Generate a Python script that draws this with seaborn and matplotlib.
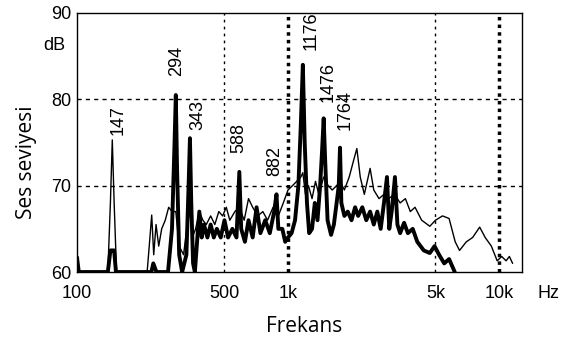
import numpy as np
import pandas as pd
import seaborn as sns
import matplotlib.pyplot as plt

# Spektrum verileri (Hz, dB) - ince cizgi
ince_hz = [100, 140, 144, 147, 150, 154, 215, 220, 226, 231, 237, 244, 252, 262, 272, 282, 294,
           305, 320, 335, 343, 352, 365, 380, 395, 410, 430, 450, 470, 490, 510, 530, 560, 588,
           620, 650, 680, 720, 760, 800, 850, 900, 950, 1000, 1050, 1100, 1150, 1176, 1210, 1250,
           1300, 1350, 1400, 1476, 1550, 1620, 1700, 1764, 1850, 1950, 2050, 2120, 2200, 2300,
           2450, 2550, 2700, 2850, 3000, 3200, 3400, 3600, 3800, 4000, 4300, 4700, 5000, 5400,
           5800, 6200, 6500, 7000, 7500, 8100, 8600, 9200, 9800, 10300, 10800, 11200, 11600]
ince_db = [60, 60, 68, 75.3, 68, 60, 60, 63, 66.6, 62, 65.5, 63, 65, 66, 67.5, 67, 67,
           63, 62, 66, 67, 64, 65, 67, 66, 65.5, 66.5, 65.5, 67, 66.5, 67.5, 66, 67, 67.5,
           66, 68.5, 67.5, 66.5, 67, 66, 67.5, 66.5, 68, 69.5, 70, 70.5, 71, 71.5, 69, 70,
           68.5, 70.5, 69, 71, 70, 69.5, 70, 70.5, 69.5, 71, 73, 74.3, 71, 69,
           72, 69.5, 68.5, 69, 68.5, 69, 68, 68.5, 67, 67.5, 66, 65.3, 66, 66.5,
           66.2, 63.5, 62.5, 63.5, 64, 65.2, 64, 63, 61.3, 61.8, 61.3, 61.8, 61]

# kalin cizgi
kalin_hz = [100, 102, 140, 144, 147, 150, 153, 225, 230, 238, 270, 282, 290, 294, 298, 305, 315,
            330, 338, 343, 348, 355, 362, 372, 380, 390, 400, 415, 430, 445, 460, 480, 500, 520,
            545, 570, 588, 600, 625, 650, 680, 710, 740, 780, 820, 860, 882, 900, 940, 970, 1000,
            1040, 1080, 1120, 1150, 1176, 1200, 1230, 1260, 1300, 1340, 1380, 1420, 1450, 1476,
            1500, 1540, 1600, 1650, 1700, 1740, 1764, 1790, 1850, 1920, 2000, 2080, 2150, 2250,
            2350, 2450, 2550, 2650, 2750, 2850, 2945, 3020, 3100, 3213, 3300, 3400, 3550, 3700,
            3900, 4100, 4400, 4700, 4950, 5200, 5500, 5800, 6170]
kalin_db = [61.7, 60, 60, 62.5, 62.5, 62.5, 60, 60, 61, 60, 60, 65, 75, 80.5, 72, 62, 60,
            62, 70, 75.5, 68, 61, 60, 64, 67, 64, 65.5, 64, 65.5, 64, 65, 64, 66, 64,
            65, 64, 71.6, 65, 63.5, 66, 64, 67.5, 64.5, 66, 64.5, 67, 69, 65, 65, 63.5, 64,
            64.5, 66, 70, 77, 84, 75, 68, 64.5, 65, 68, 66, 70, 74, 77.8,
            73, 66, 64.3, 65.5, 68, 70, 74.4, 68, 66.5, 67, 66, 67.5, 66.5, 67.5,
            66, 67, 65.5, 67, 65, 68, 71, 65, 67, 71, 65.5, 64.5, 65.7, 64.5,
            65, 63.5, 62.5, 62.2, 63, 62, 61, 61.5, 60]

# tepe etiketleri
tepe_etiket = ['147', '294', '343', '588', '882', '1176', '1476', '1764']
tepe_hz = [156, 298, 374, 585, 866, 1286, 1545, 1862]
tepe_db = [75.9, 82.7, 76.5, 73.8, 71.1, 85.7, 79.7, 76.5]

x_tikler = [100, 500, 1000, 5000, 10000]
x_etiket = ['100', '500', '1k', '5k', '10k']
y_tikler = [60, 70, 80, 90]

sns.set_style('white')
plt.rcParams['font.family'] = ['Liberation Sans', 'DejaVu Sans']
plt.rcParams['text.color'] = 'black'
plt.rcParams['axes.labelcolor'] = 'black'

fig = plt.figure(figsize=(5.64, 3.51), dpi=100)
ax = fig.add_axes([0.1365, 0.225, 0.789, 0.738])

# izgara cizgileri
for y in [70, 80]:
    ax.axhline(y, color='black', lw=1, ls=(0, (3, 3)), zorder=1)
ax.axvline(500, color='black', lw=1, ls=(0, (2, 3)), zorder=1)
ax.axvline(5000, color='black', lw=1, ls=(0, (2, 3)), zorder=1)
ax.axvline(1000, color='black', lw=2.5, ls=(0, (1, 1.2)), zorder=1)
ax.axvline(10000, color='black', lw=2.5, ls=(0, (1, 1.2)), zorder=1)

sns.lineplot(x=ince_hz, y=ince_db, ax=ax, color='black', lw=1, estimator=None, zorder=3)
sns.lineplot(x=kalin_hz, y=kalin_db, ax=ax, color='black', lw=2.8, estimator=None, zorder=4)

for lab, fx, fy in zip(tepe_etiket, tepe_hz, tepe_db):
    ax.text(fx, fy, lab, rotation=90, ha='center', va='bottom', fontsize=13, zorder=5)

ax.set_xscale('log')
ax.set_xlim(100, 12850)
ax.set_ylim(60, 90)
ax.set_xticks(x_tikler)
ax.set_xticklabels(x_etiket, fontsize=13)
ax.minorticks_off()
ax.set_yticks(y_tikler)
ax.set_yticklabels([str(v) for v in y_tikler], fontsize=13)
ax.tick_params(axis='x', length=0, pad=9, labelcolor='black')
ax.tick_params(axis='y', length=0, pad=4, labelcolor='black')

for s in ax.spines.values():
    s.set_color('black')
    s.set_linewidth(1)

ax.text(-0.025, 0.873, 'dB', transform=ax.transAxes, ha='right', va='center', fontsize=13)
ax.text(1.034, -0.081, 'Hz', transform=ax.transAxes, ha='left', va='center', fontsize=13)

ax.set_xlabel('Frekans', fontsize=15, family='Open Sans')
ax.xaxis.set_label_coords(0.51, -0.17)
ax.set_ylabel('Ses seviyesi', fontsize=15, family='Open Sans')
ax.yaxis.set_label_coords(-0.09, 0.425)

fig.savefig('out.png', dpi=100)
